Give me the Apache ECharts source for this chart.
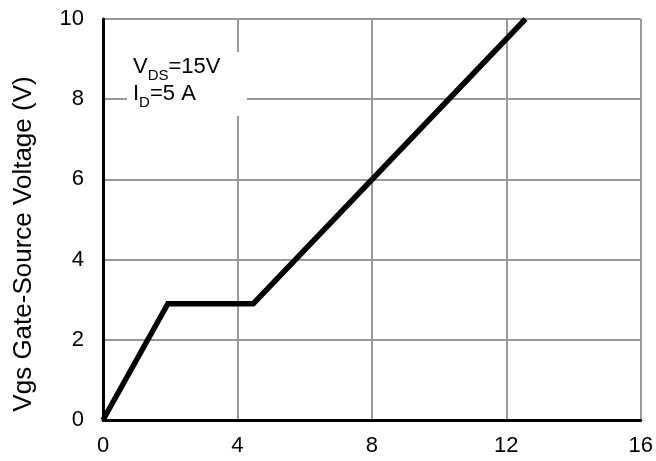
<!DOCTYPE html>
<html>
<head>
<meta charset="utf-8">
<script src="https://cdn.jsdelivr.net/npm/echarts@6/dist/echarts.min.js"></script>
<style>html,body{margin:0;padding:0;background:#fff;}#c{width:656px;height:461px;}</style>
</head>
<body>
<div id="c"></div>
<script>
// Gate charge curve (Qg in nC vs Vgs in V)
var qg = [0, 1.93, 4.47, 12.57];
var vgs = [0, 2.9, 2.9, 10];
var xTicks = [0, 4, 8, 12, 16];
var yTicks = [0, 2, 4, 6, 8, 10];
var yAxisTitle = 'Vgs Gate-Source Voltage (V)';

var chart = echarts.init(document.getElementById('c'));
var pts = qg.map(function (x, i) { return [x, vgs[i]]; });
var font = 'Liberation Sans, Arial, sans-serif';
chart.setOption({
  animation: false,
  grid: { left: 103, right: 12, top: 19, bottom: 41, containLabel: false },
  xAxis: {
    type: 'value', min: xTicks[0], max: xTicks[xTicks.length - 1], interval: 4,
    axisLine: { show: true, onZero: false, lineStyle: { color: '#000', width: 3 } },
    axisTick: { show: false },
    axisLabel: { color: '#000', fontSize: 22, fontFamily: font, margin: 15 },
    splitLine: { show: true, lineStyle: { color: '#999', width: 2 } }
  },
  yAxis: {
    type: 'value', min: yTicks[0], max: yTicks[yTicks.length - 1], interval: 2,
    axisLine: { show: true, onZero: false, lineStyle: { color: '#000', width: 3 } },
    axisTick: { show: false },
    axisLabel: { color: '#000', fontSize: 22, fontFamily: font, margin: 19 },
    splitLine: { show: true, lineStyle: { color: '#999', width: 2 } }
  },
  series: [{
    type: 'line', data: pts, symbol: 'none', z: 5,
    lineStyle: { color: '#000', width: 5.5, join: 'miter' }
  }],
  graphic: [
    {
      type: 'text', x: 24, y: 244, rotation: Math.PI / 2, z: 4,
      style: { text: yAxisTitle, fontSize: 26, fontFamily: font, fill: '#000', align: 'center', verticalAlign: 'middle' }
    },
    { type: 'rect', shape: { x: 127, y: 52, width: 120, height: 64 }, style: { fill: '#fff' }, z: 3 },
    {
      type: 'text', left: 133, top: 56, z: 4,
      style: {
        text: '{m|V}{s|DS}{m|=15V}\n{m|I}{s|D}{m|=5 A}',
        fontFamily: font,
        rich: {
          m: { fontSize: 22, fontFamily: font, fill: '#000', lineHeight: 27, verticalAlign: 'bottom' },
          s: { fontSize: 15, fontFamily: font, fill: '#000', lineHeight: 20, verticalAlign: 'bottom', padding: [0, 0, -5, 0] }
        }
      }
    }
  ]
});
</script>
</body>
</html>
